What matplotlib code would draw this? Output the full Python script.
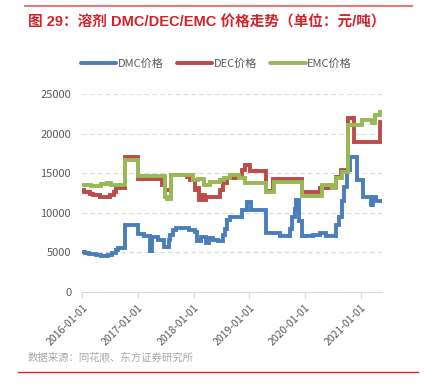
import pandas as pd
import matplotlib
matplotlib.use("Agg")
import matplotlib.pyplot as plt
import matplotlib.dates as mdates
from matplotlib.lines import Line2D

plt.rcParams['font.family'] = ['Noto Sans CJK SC', 'DejaVu Sans']

# DMC price, step points (date, yuan/t)
dmc_dates = ["2016-01-01", "2016-01-20", "2016-02-15", "2016-03-10", "2016-04-01", "2016-05-01",
             "2016-06-15", "2016-07-15", "2016-08-10", "2016-08-25", "2016-10-08", "2016-12-30",
             "2017-02-10", "2017-03-20", "2017-04-05", "2017-05-10", "2017-06-20", "2017-07-20",
             "2017-08-01", "2017-08-20", "2017-09-05", "2017-12-01", "2018-01-10", "2018-01-25",
             "2018-02-20", "2018-03-20", "2018-04-10", "2018-05-10", "2018-06-10", "2018-07-10",
             "2018-07-25", "2018-08-10", "2018-08-25", "2018-11-15", "2018-12-15", "2019-01-10",
             "2019-04-22", "2019-07-20", "2019-09-25", "2019-10-10", "2019-10-25", "2019-11-05",
             "2019-11-20", "2019-12-10", "2020-02-20", "2020-04-10", "2020-05-20", "2020-06-10",
             "2020-07-20", "2020-08-10", "2020-09-01", "2020-09-15", "2020-10-01", "2020-10-20",
             "2020-12-05", "2021-01-15", "2021-03-10", "2021-03-25", "2021-04-10", "2021-05-20"]
dmc_vals = [5000, 4850, 4750, 4800, 4650, 4500,
            4600, 4900, 5300, 5500, 8500, 7300,
            7100, 5100, 6900, 6600, 5700, 6500,
            7200, 7800, 8050, 7800, 7600, 6400,
            6900, 6200, 6800, 6600, 6400, 7200,
            8000, 9100, 9400, 10300, 11300, 10400,
            7400, 7000, 8000, 9500, 10500, 11600,
            9000, 7000, 7200, 7400, 7100, 7000,
            8500, 9500, 11500, 13300, 15400, 17100,
            14200, 12000, 11000, 12000, 11500, 11500]

# DEC price
dec_dates = ["2016-01-01", "2016-01-15", "2016-02-20", "2016-03-10", "2016-04-25", "2016-07-01",
             "2016-07-25", "2016-08-10", "2016-10-08", "2016-12-30", "2017-06-05", "2017-06-25",
             "2017-08-05", "2017-11-20", "2017-12-10", "2018-01-10", "2018-01-20", "2018-02-05",
             "2018-02-25", "2018-03-15", "2018-03-25", "2018-06-25", "2018-07-15", "2018-08-10",
             "2018-10-05", "2018-11-15", "2018-12-01", "2019-01-05", "2019-04-22", "2019-06-05",
             "2019-12-10", "2020-04-10", "2020-06-25", "2020-07-25", "2020-08-25", "2020-10-12",
             "2020-11-20", "2021-05-05", "2021-05-20"]
dec_vals = [12900, 12600, 12400, 12250, 11950, 12250,
            12600, 13100, 17100, 14300, 13500, 12900,
            14800, 14500, 14200, 12900, 13100, 11600,
            12250, 11600, 11950, 12900, 13700, 14400,
            14600, 15400, 16050, 15300, 12700, 14300,
            12600, 13100, 13300, 14500, 15400, 22000,
            19000, 21500, 21500]

# EMC price
emc_dates = ["2016-01-01", "2016-03-01", "2016-05-01", "2016-06-10", "2016-07-10", "2016-10-08",
             "2016-12-30", "2017-06-25", "2017-07-10", "2017-08-05", "2017-12-28", "2018-02-01",
             "2018-03-10", "2018-04-15", "2018-06-20", "2018-07-20", "2018-08-25", "2018-10-25",
             "2018-12-01", "2019-04-22", "2019-06-10", "2019-12-10", "2020-04-20", "2020-06-25",
             "2020-07-25", "2020-08-28", "2020-10-12", "2021-01-08", "2021-03-15", "2021-04-05",
             "2021-05-05", "2021-05-20"]
emc_vals = [13500, 13400, 13600, 13700, 13500, 16700,
            14700, 12000, 11700, 14800, 14150, 14300,
            13500, 13940, 14150, 14370, 14800, 14370,
            13730, 12670, 13940, 12100, 13500, 13100,
            14370, 15200, 21100, 21750, 21300, 22400,
            22800, 22800]

series = [("DMC价格", dmc_dates, dmc_vals, "#4A7EBB"),
          ("DEC价格", dec_dates, dec_vals, "#BE4B48"),
          ("EMC价格", emc_dates, emc_vals, "#98B954")]

fig = plt.figure(figsize=(4.24, 3.89), dpi=100)
ax = fig.add_axes([0.194, 0.25, 0.707, 0.508])

for name, d, v, c in series:
    ax.plot(pd.to_datetime(d), v, drawstyle="steps-post", color=c, lw=2.8,
            label=name, solid_joinstyle="miter")

ax.set_ylim(0, 25000)
ax.set_xlim(pd.Timestamp("2016-01-01"), pd.Timestamp("2021-05-20"))
ax.set_yticks(range(0, 25001, 5000))
ax.yaxis.grid(True, ls=(0, (4, 3)), color="#D9D9D9", lw=0.8)
ax.set_axisbelow(True)

years = pd.to_datetime(["2016-01-01", "2017-01-01", "2018-01-01", "2019-01-01",
                        "2020-01-01", "2021-01-01"])
ax.set_xticks(years)
ax.xaxis.set_major_formatter(mdates.DateFormatter("%Y-%m-%d"))
plt.setp(ax.get_xticklabels(), rotation=45, ha="right", rotation_mode="anchor")

for s in ["top", "right", "left"]:
    ax.spines[s].set_visible(False)
ax.spines["bottom"].set_color("#D9D9D9")
ax.tick_params(axis="y", length=0, labelsize=8, labelcolor="#595959", pad=8)
ax.tick_params(axis="x", length=4, color="#D9D9D9", labelsize=7.5, labelcolor="#595959")

handles = [Line2D([], [], color=c, lw=2.8, solid_capstyle="round") for _, _, _, c in series]
fig.legend(handles, [s[0] for s in series], loc="center", bbox_to_anchor=(0.51, 0.835),
           ncol=3, frameon=False, fontsize=8, handlelength=3.2, handletextpad=0.1,
           columnspacing=1.2, labelcolor="#595959")

# header / footer
fig.add_artist(Line2D([0.059, 0.972], [0.985, 0.985], color="#E8787A", lw=1.5))
fig.text(0.066, 0.943, "图 29：溶剂 DMC/DEC/EMC 价格走势（单位：元/吨）", color="#D2232A",
         fontsize=10.5, fontweight="bold", va="center",
         family=["Liberation Sans", "Noto Sans CJK SC"])
fig.text(0.066, 0.08, "数据来源：同花顺、东方证券研究所", color="#A6A6A6", fontsize=7.5, va="center")
fig.add_artist(Line2D([0.042, 0.986], [0.044, 0.044], color="#E0262C", lw=1))

fig.savefig("out.png", dpi=100)
